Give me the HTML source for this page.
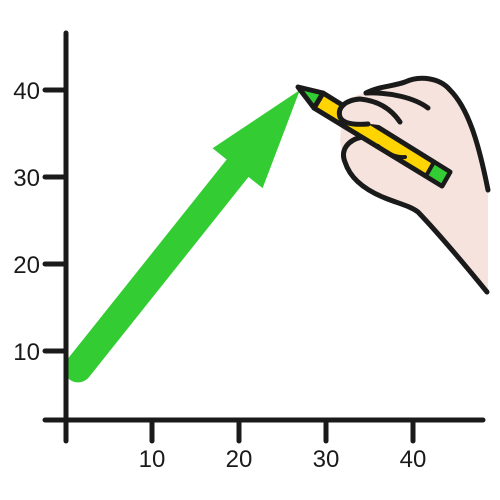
<!DOCTYPE html>
<html><head><meta charset="utf-8"><style>
html,body{margin:0;padding:0;background:#fff}
svg{display:block}
text{font-family:"Liberation Sans",sans-serif;font-size:24px;fill:#1a1a1a}
</style></head><body>
<svg id="chart" width="500" height="500" viewBox="0 0 500 500">
<defs><clipPath id="plotclip"><rect x="68" y="0" width="432" height="420"/></clipPath></defs>
<g id="arrow-layer" clip-path="url(#plotclip)"></g>
<g id="hand">
 <path d="M488,190 C480,150 470,110 450,90 C440,78 420,75 405,82 C395,86 380,86 366,93 C345,97 335,108 342,118 L340,140 C342,160 352,175 372,190 C388,203 405,208 415,212 C440,235 465,270 488,295 Z" fill="#f6e3dd" stroke="none"/>
 <path d="M488,190 C480,150 470,110 450,90 C440,78 420,75 405,82 C395,86 380,86 366,93" fill="none" stroke="#1a1a1a" stroke-width="5" stroke-linecap="round"/>
 <path d="M366,93 C390,92 415,98 428,108" fill="none" stroke="#1a1a1a" stroke-width="5" stroke-linecap="round"/>
 <path d="M362,137 C348,140 340,150 345,162 C350,178 365,190 385,198 C400,204 410,206 418,212 C440,235 465,265 487,292" fill="none" stroke="#1a1a1a" stroke-width="5" stroke-linecap="round"/>
 <path d="M323,93 L450,172 L442,186 L314,108 Z" fill="#ffd400" stroke="#1a1a1a" stroke-width="5" stroke-linejoin="round"/>
 <path d="M434,162 L450,172 L442,186 L426,176 Z" fill="#33cc33" stroke="#1a1a1a" stroke-width="4" stroke-linejoin="round"/>
 <path d="M298,87 L323,93 L314,108 Z" fill="#33cc33" stroke="#1a1a1a" stroke-width="5" stroke-linejoin="round"/>
 <path d="M400,132 C392,112 380,101 360,99 C345,100 337,108 340,117 C343,124 355,125 368,124 C380,124 392,128 400,132 Z" fill="#f6e3dd" stroke="none"/>
 <path d="M400,122 C392,110 380,101 360,99 C345,100 337,108 340,117 C343,124 355,125 368,124" fill="none" stroke="#1a1a1a" stroke-width="5" stroke-linecap="round"/>
 <path d="M378,146 C385,152 395,158 405,157" fill="none" stroke="#1a1a1a" stroke-width="4" stroke-linecap="round"/>
</g>
<g id="axes">
 <line x1="66" y1="33" x2="66" y2="441" stroke="#1a1a1a" stroke-width="5" stroke-linecap="round"/>
 <line x1="45" y1="420" x2="483" y2="420" stroke="#1a1a1a" stroke-width="5" stroke-linecap="round"/>
</g>
<g id="ticks"></g>
</svg>
<script>
const xTicks=[10,20,30,40];
const yTicks=[10,20,30,40];
const arrowStart=[1.5,8];
const arrowEnd=[27,40];
const sx=v=>65+8.7*v;
const sy=v=>438-8.7*v;
const NS="http://www.w3.org/2000/svg";
const tg=document.getElementById('ticks');
function mk(tag,attrs,parent){const e=document.createElementNS(NS,tag);for(const k in attrs)e.setAttribute(k,attrs[k]);parent.appendChild(e);return e;}
xTicks.forEach(v=>{
 const l=mk('line',{x1:sx(v),y1:420,x2:sx(v),y2:441,stroke:'#1a1a1a','stroke-width':5,'stroke-linecap':'round'},tg);
 
 
 const t=mk('text',{x:sx(v),y:467,'text-anchor':'middle'},tg);t.textContent=v;
 
 
});
yTicks.forEach(v=>{
 const l=mk('line',{x1:45,y1:sy(v),x2:66,y2:sy(v),stroke:'#1a1a1a','stroke-width':5,'stroke-linecap':'round'},tg);
 
 
 const t=mk('text',{x:40,y:sy(v)+9,'text-anchor':'end'},tg);t.textContent=v;
 
 
});
const ag=document.getElementById('arrow-layer');
const x0=sx(arrowStart[0]),y0=sy(arrowStart[1]),x1=sx(arrowEnd[0]),y1=sy(arrowEnd[1]);
const dx=x1-x0,dy=y1-y0,L=Math.hypot(dx,dy),ux=dx/L,uy=dy/L,px=-uy,py=ux;
const hl=100,hw=32;
const bx=x1-ux*hl,by=y1-uy*hl;
const shaft=mk('line',{x1:x0,y1:y0,x2:bx+ux*5,y2:by+uy*5,stroke:'#33cc33','stroke-width':28,'stroke-linecap':'round'},ag);


const head=mk('polygon',{points:`${x1},${y1} ${bx+px*hw},${by+py*hw} ${bx-px*hw},${by-py*hw}`,fill:'#33cc33'},ag);


</script>
</body></html>
